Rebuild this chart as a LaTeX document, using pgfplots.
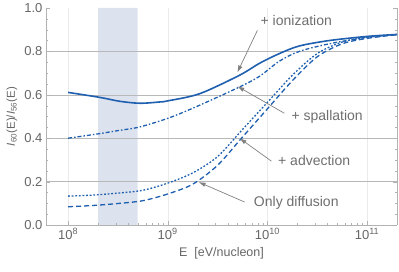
\documentclass[border=0pt]{standalone}
\usepackage{fontspec}
\setmainfont{Liberation Sans}
\usepackage{pgfplots}
\pgfplotsset{compat=1.18}
\usetikzlibrary{arrows.meta}
\definecolor{cblue}{HTML}{1F5FAF}
\definecolor{band}{HTML}{DDE3EE}
\definecolor{anngray}{HTML}{6E6E6E}
\definecolor{arrgray}{HTML}{808080}
\begin{document}
\begin{tikzpicture}
\begin{axis}[
  scale only axis, width=351pt, height=217pt,
  xmode=log, xmin=6e7, xmax=2e11, ymin=0, ymax=1,
  set layers=standard,
  axis x line*=bottom, axis y line*=box,
  axis line style={draw=black!30},
  xtick={1e8,1e9,1e10,1e11},
  xticklabels={10\textsuperscript{8},10\textsuperscript{9},10\textsuperscript{10},10\textsuperscript{11}},
  ytick={0,0.2,0.4,0.6,0.8,1},
  yticklabels={0.0,0.2,0.4,0.6,0.8,1.0},
  minor y tick num=3,
  tick align=inside,
  major tick length=4pt, minor tick length=2.5pt,
  tick style={draw=black!30},
  xmajorgrids,
  x grid style={black!8},
  extra y ticks={0.2,0.4,0.6,0.8},
  extra y tick labels={},
  extra y tick style={grid=major, major tick length=0pt},
  y grid style={black!28, line width=0.6pt},
  ticklabel style={font=\fontsize{13}{15}\selectfont, text=black!60},
  xlabel={E\ \ [eV/nucleon]},
  ylabel={\textit{I}\textsubscript{60}(E)/\textit{I}\textsubscript{56}(E)},
  xlabel style={font=\fontsize{12.5}{14}\selectfont, text=black!60, at={(axis description cs:0.5,-0.129)}, anchor=center},
  ylabel style={font=\fontsize{11.5}{13}\selectfont, text=black!60, at={(axis description cs:-0.097,0.5)}, anchor=center},
  clip=false,
]
\coordinate (bl) at (rel axis cs:0,0);
\coordinate (tr) at (rel axis cs:1,1);
% shaded band
\addplot[fill=band, draw=none, on layer=axis background] coordinates {(2e8,0) (2e8,1) (5e8,1) (5e8,0)} \closedcycle;

% + ionization (solid)
\addplot[cblue, line width=1.6pt, smooth] coordinates {
(1e8,0.611) (2.09e8,0.588) (3.31e8,0.570) (5.25e8,0.561) (8.32e8,0.567) (1e9,0.572)
(2.09e9,0.605) (5.25e9,0.690) (8.32e9,0.745) (1.32e10,0.790) (2.09e10,0.825)
(4.17e10,0.850) (1e11,0.869) (2e11,0.878)};

% + spallation (dash dot)
\addplot[cblue, line width=1.3pt, smooth, dash pattern=on 4pt off 2pt on 1.5pt off 2pt] coordinates {
(1e8,0.400) (2e8,0.420) (3.16e8,0.435) (5.25e8,0.452) (1.05e9,0.495) (2.09e9,0.552)
(5.25e9,0.636) (8.32e9,0.685) (1.32e10,0.755) (2.09e10,0.800) (4.17e10,0.835)
(1e11,0.865) (2e11,0.878)};

% + advection (dotted)
\addplot[cblue, line width=1.3pt, smooth, dash pattern=on 1.8pt off 1.8pt] coordinates {
(1e8,0.133) (1.78e8,0.138) (3.16e8,0.147) (5.62e8,0.160) (1e9,0.193) (1.78e9,0.240)
(3.16e9,0.315) (5.62e9,0.440) (1e10,0.565) (1.78e10,0.690) (3.16e10,0.790)
(5.62e10,0.843) (1e11,0.865) (2e11,0.878)};

% Only diffusion (dashed)
\addplot[cblue, line width=1.3pt, smooth, dash pattern=on 5pt off 3pt] coordinates {
(1e8,0.084) (1.78e8,0.090) (3.16e8,0.099) (5.62e8,0.112) (1e9,0.143) (1.78e9,0.188)
(3.16e9,0.275) (5.62e9,0.405) (1e10,0.535) (1.78e10,0.665) (3.16e10,0.775)
(5.62e10,0.835) (1e11,0.860) (2e11,0.877)};

% annotations
\draw[arrgray, line width=0.7pt, -{Latex[length=7pt,width=4.5pt]}] (axis cs:7.94e9,0.897) -- (axis cs:5.0e9,0.703);
\node[text=anngray, font=\fontsize{14}{16}\selectfont] at (axis cs:1.95e10,0.943) {+ ionization};
\draw[arrgray, line width=0.7pt, -{Latex[length=7pt,width=4.5pt]}] (axis cs:1.48e10,0.515) -- (axis cs:5.0e9,0.639);
\node[text=anngray, font=\fontsize{14}{16}\selectfont] at (axis cs:3.98e10,0.497) {+ spallation};
\draw[arrgray, line width=0.7pt, -{Latex[length=7pt,width=4.5pt]}] (axis cs:1.1e10,0.294) -- (axis cs:5.25e9,0.400);
\node[text=anngray, font=\fontsize{14}{16}\selectfont] at (axis cs:2.95e10,0.299) {+ advection};
\draw[arrgray, line width=0.7pt, -{Latex[length=7pt,width=4.5pt]}] (axis cs:5.9e9,0.106) -- (axis cs:2.04e9,0.198);
\node[text=anngray, font=\fontsize{14}{16}\selectfont] at (axis cs:1.95e10,0.101) {Only diffusion};
\end{axis}
\pgfresetboundingbox
\path ([shift={(-46pt,-46pt)}]bl) rectangle ([shift={(2pt,8pt)}]tr);
\end{tikzpicture}
\end{document}
